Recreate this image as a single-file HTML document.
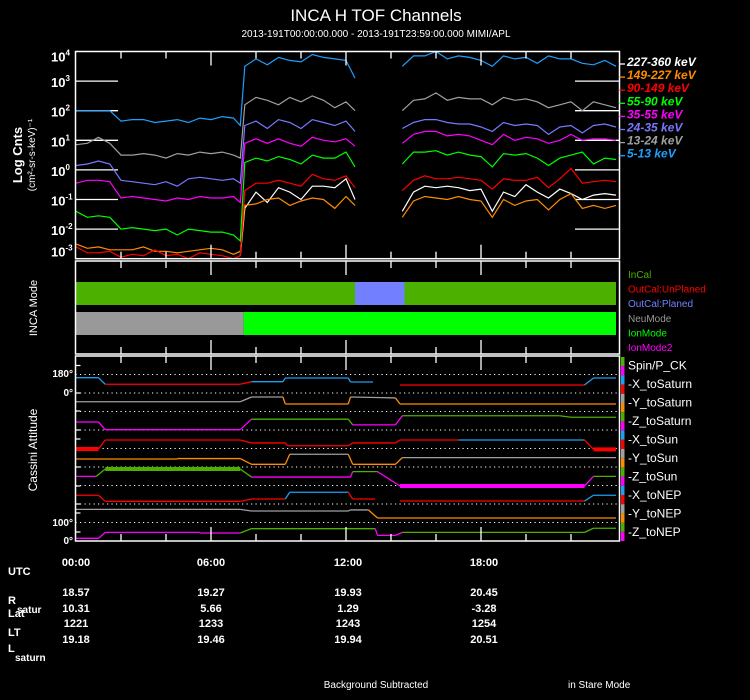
<!DOCTYPE html>
<html><head><meta charset="utf-8"><style>
html,body{margin:0;padding:0;background:#000;}
svg{display:block;font-family:"Liberation Sans",Arial,sans-serif;}
</style></head><body>
<svg id="c" width="750" height="700" viewBox="0 0 750 700">
<rect width="750" height="700" fill="#000"/>
<text x="376" y="21" fill="#fff" font-size="17" text-anchor="middle">INCA H TOF Channels</text>
<text x="376" y="37" fill="#fff" font-size="10" text-anchor="middle">2013-191T00:00:00.000 - 2013-191T23:59:00.000 MIMI/APL</text>
<g id="spec"></g>
<g id="mode"></g>
<g id="att"></g>
<g id="foot"></g>
</svg>
<script>
// ---- spectrum data ----
const times=[0,0.5,1,1.5,2,2.5,3,3.5,4,4.5,5,5.5,6,6.5,7,7.3,7.5,8,8.5,9,9.5,10,10.5,11,11.5,12,12.4,13.4,14.5,15,15.5,16,16.5,17,17.5,18,18.5,19,19.5,20,20.5,21,21.5,22,22.5,23,23.5,24];
const chanLabels=["227-360 keV","149-227 keV","90-149 keV","55-90 keV","35-55 keV","24-35 keV","13-24 keV","5-13 keV"];
const chanColors=["#ffffff","#ff8c00","#ff0000","#00ff00","#ff00ff","#7878ff","#a0a0a0","#1ea0ff"];
const N=null;
const s5_13=[2.0,2.0,2.0,2.0,1.65,1.7,1.7,1.6,1.65,1.7,1.6,1.75,1.7,1.8,1.75,1.5,3.5,3.75,3.55,3.8,3.7,3.65,3.9,3.8,3.75,3.7,3.1,N,3.5,3.85,3.85,4.0,3.75,3.85,3.8,3.7,3.5,3.85,3.75,3.8,3.6,3.85,3.75,3.75,3.6,3.55,3.7,3.5];
const s13_24=[0.85,0.9,1.1,0.9,0.5,0.5,0.55,0.5,0.4,0.55,0.5,0.6,0.55,0.6,0.5,0.4,2.2,2.45,2.35,2.2,2.45,2.3,2.5,2.35,2.1,2.3,2.0,N,2.0,2.35,2.4,2.6,2.35,2.45,2.4,2.4,2.2,2.45,2.35,2.4,2.3,2.1,2.2,2.3,2.0,2.3,2.2,2.1];
const s24_35=[0.15,0.2,0.3,0.2,-0.35,-0.4,-0.45,-0.5,-0.4,-0.55,-0.3,-0.25,-0.3,-0.35,-0.3,-0.45,1.5,1.65,1.4,1.7,1.6,1.4,1.7,1.6,1.5,1.65,1.3,N,1.4,1.6,1.7,1.7,1.6,1.55,1.55,1.45,1.3,1.6,1.5,1.55,1.5,1.2,1.45,1.5,1.25,1.5,1.55,1.45];
const s35_55=[-0.45,-0.35,-0.35,-0.4,-0.95,-0.9,-0.95,-1.0,-1.05,-0.95,-1.0,-0.9,-0.95,-0.95,-0.9,-1.1,0.9,1.05,0.9,1.05,0.9,0.8,1.1,1.0,0.95,1.05,0.8,N,0.9,1.2,1.3,1.3,1.15,1.2,1.15,1.0,0.85,1.2,1.0,1.1,1.05,0.9,1.0,1.2,1.0,1.05,1.05,1.0];
const s55_90=[-1.4,-1.6,-1.55,-1.6,-2.0,-1.95,-2.0,-2.05,-2.0,-2.2,-2.0,-2.05,-2.1,-2.1,-2.2,-2.4,0.25,0.4,0.3,0.45,0.35,0.2,0.5,0.4,0.4,0.6,0.1,N,0.2,0.6,0.6,0.65,0.5,0.6,0.5,0.45,0.1,0.55,0.5,0.55,0.4,0.15,0.4,0.5,0.6,0.2,0.4,0.35];
const s90_149=[-2.6,-2.8,-2.8,-2.75,-2.95,-2.85,-2.9,-2.7,-2.9,-2.85,-3.0,-2.8,-2.85,-2.9,-3.0,-2.9,-0.7,-0.45,-0.45,-0.35,-0.45,-0.55,-0.15,-0.3,-0.35,-0.2,-0.6,N,-0.7,-0.35,-0.2,-0.3,-0.3,-0.25,-0.3,-0.35,-0.65,-0.3,-0.35,-0.35,-0.25,-0.6,-0.3,0.05,-0.45,-0.4,-0.35,-0.4];
const s149_227=[-2.5,-2.65,-2.6,-2.7,-2.7,-2.7,-2.6,-2.75,-2.75,-2.8,-2.75,-2.7,-2.65,-2.7,-2.85,-2.75,-1.2,-1.15,-1.0,-0.95,-1.2,-1.05,-0.95,-1.0,-1.3,-0.9,-1.2,N,-1.6,-1.05,-0.9,-0.95,-1.0,-0.9,-1.0,-1.05,-1.6,-1.0,-1.2,-1.05,-1.0,-1.35,-1.0,-0.8,-1.3,-1.2,-1.3,-1.2];
const s227_360=[N,N,N,N,N,N,N,N,N,N,N,N,N,N,N,-2.9,-1.3,-0.75,-1.1,-0.6,-0.75,-1.0,-0.55,-0.55,-0.6,-0.3,-1.0,N,-1.4,-0.75,-0.55,-0.6,-0.55,-0.6,-0.7,-0.65,-1.4,-0.75,-0.9,-0.5,-0.75,-0.95,-0.65,-0.8,-1.0,-0.85,-0.8,-0.85];
const decades=[4,3,2,1,0,-1,-2,-3];
const hourTicks=[0,2,4,6,8,10,12,14,16,18,20,22,24];
// ---- mode data ----
const calStart=[0,12.4,14.6];const calEnd=[12.4,14.6,24];const calKind=["InCal","OutCal:Planed","InCal"];
const modeStart=[0,7.45];const modeEnd=[7.45,24];const modeKind=["NeuMode","IonMode"];
const modeNames=["InCal","OutCal:UnPlaned","OutCal:Planed","NeuMode","IonMode","IonMode2"];
const modeColors=["#4cb000","#ff0000","#7280ff","#999999","#00ff00","#ff00ff"];
// ---- attitude data (degrees per row) ----
const attLabels=["Spin/P_CK","-X_toSaturn","-Y_toSaturn","-Z_toSaturn","-X_toSun","-Y_toSun","-Z_toSun","-X_toNEP","-Y_toNEP","-Z_toNEP"];
const T1=[0,1.0,1.3,7.3,7.8,9.2,9.3,12.1,12.2,13.2,14.4,22.6,23,24];
const V1=[149,149,85,85,110,110,146,146,107,107,78,78,146,146];
const C1=["b","b","r","r","b","b","b","b","b","-","r","b","b"];
const T2=[0,7.3,7.8,9.2,9.3,12.1,12.2,14.2,14.4,24];
const V2=[95,95,141,141,73,73,141,132,73,73];
const C2=["g","g","g","o","o","o","g","o","o"];
const T3=[0,1.0,1.3,7.3,7.8,12.1,12.3,14.2,14.5,21.5,22,24];
const V3=[78,78,3,3,105,105,50,50,139,139,124,124];
const C3=["m","m","m","m","G","G","m","m","G","G","G"];
const T4=[0,1.0,1.3,7.3,7.8,9.3,9.4,12.1,12.3,14.2,14.4,17,22.6,23,24];
const V4=[-5,-5,83,83,54,54,27,27,54,54,83,83,83,-8,-8];
const C4=["R","r","r","r","r","r","r","r","r","r","r","b","r","R"];
const T5=[0,4.5,4.5,7.3,7.8,9.3,9.5,12.1,12.3,14.2,14.5,24];
const V5=[78,78,82,82,26,26,124,124,26,26,91,91];
const C5=["o","o","o","o","o","o","g","o","o","o","g"];
const T6=[0,0.9,1.3,7.3,7.8,12.2,12.3,13.4,14.4,22.6,23,24];
const V6=[89,89,160,160,82,82,135,135,-5,-5,89,89];
const C6=["m","G","X","G","m","m","G","m","M","m","G"];
const T7=[0,1.0,1.3,7.3,7.8,9.3,9.5,12.1,12.3,13.3,14.4,22.6,23,24];
const V7=[85,85,26,26,49,49,114,114,49,49,29,29,85,85];
const C7=["r","r","r","r","r","b","b","r","r","-","r","b","b"];
const T8=[0,7.3,7.8,12.1,12.2,13.0,13.4,24];
const V8=[128,128,112,112,122,122,44,44];
const C8=["g","g","g","g","g","o","o"];
const T9=[0,1.0,1.3,5.5,5.5,7.3,7.8,13.3,13.4,14.2,14.5,22.6,23,24];
const V9=[26,26,84,84,78,78,120,120,55,55,84,84,124,124];
const C9=["m","m","m","m","m","G","G","m","m","m","G","G","G"];
// ---- ephemeris ----
const utcLabels=["00:00","06:00","12:00","18:00"];
const rVals=["18.57","19.27","19.93","20.45"];
const latVals=["10.31","5.66","1.29","-3.28"];
const ltVals=["1221","1233","1243","1254"];
const lVals=["19.18","19.46","19.94","20.51"];

const NS="http://www.w3.org/2000/svg";
function mk(tag,attrs,parent,txt){const e=document.createElementNS(NS,tag);for(const k in attrs)e.setAttribute(k,attrs[k]);if(txt!==undefined)e.textContent=txt;parent.appendChild(e);return e;}
const X0=76,XS=22.5,PL=75.5,PR=619.5;
function xOf(t){return X0+t*XS;}
const SY0=51.5,SY1=258.7;
function yLog(v){return SY0+(4-v)*(SY1-SY0)/7;}

function frame(g,top,bot,name){
  const r=mk('rect',{x:PL,y:top,width:PR-PL,height:bot-top,fill:'none',stroke:'#fff','stroke-width':1.5},g);
  
  
  hourTicks.forEach(h=>{const x=xOf(h);const L=(h%6===0)?14:7;if(h===0||h===24)return;
    const a=mk('line',{x1:x,x2:x,y1:top,y2:top+L,stroke:'#fff','stroke-width':1.3},g);
    
    
    const b=mk('line',{x1:x,x2:x,y1:bot,y2:bot-L,stroke:'#fff','stroke-width':1.3},g);
    
    });
}

// spectrum panel
const sp=document.getElementById('spec');
decades.forEach(d=>{const y=yLog(d);
  if(d<4&&d>-3){
    const a=mk('line',{x1:PL,x2:118,y1:y,y2:y,stroke:'#fff','stroke-width':1.3},sp);
    
    
    const b=mk('line',{x1:575,x2:PR,y1:y,y2:y,stroke:'#fff','stroke-width':1.3},sp);
    
    }
  let ty=y+6; if(d===4)ty=y+10; if(d===-3)ty=y-2;
  const t=mk('text',{x:51,y:ty,fill:'#fff','font-size':13,'font-weight':'bold'},sp,'10');
  
  
  mk('tspan',{dy:-6,'font-size':8},t,String(d));
});
const series=[s227_360,s149_227,s90_149,s55_90,s35_55,s24_35,s13_24,s5_13];
series.forEach((s,i)=>{let d='';let pen=false;
  s.forEach((v,j)=>{if(v===null){pen=false;return;}d+=(pen?'L':'M')+xOf(times[j]).toFixed(1)+' '+yLog(v).toFixed(1);pen=true;});
  const p=mk('path',{d:d,fill:'none',stroke:chanColors[i],'stroke-width':1.2},sp);
  
  
});
frame(sp,SY0,SY1,'spectrum');
chanLabels.forEach((l,i)=>{const y=61+i*13.1;
  const m=mk('line',{x1:PR,x2:625,y1:y+3,y2:y+3,stroke:chanColors[i],'stroke-width':1.3},sp);
  
  
  const t=mk('text',{x:627,y:y+5,fill:chanColors[i],'font-size':12,'font-weight':'bold','font-style':'italic'},sp,l);
  
  
});
let yl=mk('text',{transform:'translate(22,155) rotate(-90)',fill:'#fff','font-size':13,'font-weight':'bold','text-anchor':'middle'},sp,'Log Cnts');


yl=mk('text',{transform:'translate(35,155) rotate(-90)',fill:'#fff','font-size':10,'text-anchor':'middle'},sp,'(cm²-sr-s-keV)⁻¹');



// mode panel
const mp=document.getElementById('mode');
const MT=261,MB=354;
calStart.forEach((s,i)=>{const r=mk('rect',{x:xOf(s),y:282,width:xOf(calEnd[i])-xOf(s),height:23,fill:modeColors[modeNames.indexOf(calKind[i])]},mp);
  
  });
modeStart.forEach((s,i)=>{const r=mk('rect',{x:xOf(s),y:312,width:xOf(modeEnd[i])-xOf(s),height:23,fill:modeColors[modeNames.indexOf(modeKind[i])]},mp);
  
  });
mp.querySelectorAll('rect').forEach(r=>{if(+r.getAttribute('x')<PL)r.setAttribute('x',PL);});
frame(mp,MT,MB,'mode');
modeNames.forEach((n,i)=>{const t=mk('text',{x:628,y:278+i*14.6,fill:modeColors[i],'font-size':10},mp,n);
  
  });
yl=mk('text',{transform:'translate(37,308) rotate(-90)',fill:'#fff','font-size':11,'text-anchor':'middle'},mp,'INCA Mode');



// attitude panel
const ap=document.getElementById('att');
const AT=356,AB=541,RH=18.5;
for(let i=1;i<10;i++){const y=AT+i*RH;
  const l=mk('line',{x1:PL,x2:PR,y1:y,y2:y,stroke:'#fff','stroke-width':1,'stroke-dasharray':'1.2,3.3'},ap);
  
  }
[365.5,393,411,430,439,467,486,504,513,532].forEach(y=>{const l=mk('line',{x1:PL,x2:PL+5,y1:y,y2:y,stroke:'#fff','stroke-width':1.2},ap);
  
  });
const colMap={b:'#1ea0f0',r:'#ff0000',g:'#a0a0a0',o:'#ff8c00',G:'#4cb000',m:'#ff00ff',R:'#ff0000',X:'#4cb000',M:'#ff00ff'};
const rowsT=[T1,T2,T3,T4,T5,T6,T7,T8,T9],rowsV=[V1,V2,V3,V4,V5,V6,V7,V8,V9],rowsC=[C1,C2,C3,C4,C5,C6,C7,C8,C9];
rowsT.forEach((T,k)=>{const row=k+1;const base=AT+(row+1)*RH;const V=rowsV[k],C=rowsC[k];
  for(let i=0;i<T.length-1;i++){const c=C[i];if(c==='-')continue;
    const w=(c==='R'||c==='X'||c==='M')?4:1.3;
    const l=mk('line',{x1:xOf(T[i]),x2:xOf(T[i+1]),y1:base-V[i]*RH/180,y2:base-V[i+1]*RH/180,stroke:colMap[c],'stroke-width':w},ap);
    
    }
});
frame(ap,AT,AB,'attitude');
const barCols=['#4cb000','#ff00ff','#1ea0f0','#ff0000','#a0a0a0','#ff8c00'];
for(let i=0;i<20;i++){const y=357+i*9.2;const h=Math.min(9.2,541-y);if(h<=0)break;
  const r=mk('rect',{x:621,y:y,width:3.5,height:h,fill:barCols[i%6]},ap);
  
  }
attLabels.forEach((n,i)=>{const t=mk('text',{x:628,y:369.5+i*18.5,fill:'#fff','font-size':12},ap,n);
  
  });
[["180°",377],["0°",396],["100°",526],["0°",544]].forEach(a=>{const t=mk('text',{x:73,y:a[1],fill:'#fff','font-size':10,'font-weight':'bold','text-anchor':'end'},ap,a[0]);
  
  });
yl=mk('text',{transform:'translate(37,450) rotate(-90)',fill:'#fff','font-size':12,'text-anchor':'middle'},ap,'Cassini Attitude');



// footer
const ft=document.getElementById('foot');
const colX=[76,211,348,484];
function row(arr,y,name){arr.forEach((v,i)=>{const t=mk('text',{x:colX[i],y:y,fill:'#fff','font-size':11,'font-weight':'bold','text-anchor':'middle'},ft,v);
  
  });}
row(utcLabels,566,'utc-tick-label');
row(rVals,596,'r-value');
row(latVals,612,'lat-value');
row(ltVals,627,'lt-value');
row(lVals,643,'l-value');
[["UTC",8,575,11],["R",8,604,11],["satur",17,613,10],["Lat",8,617,11],["LT",8,636,11],["L",8,652,11],["saturn",15,661,10]].forEach(a=>{
  const t=mk('text',{x:a[1],y:a[2],fill:'#fff','font-size':a[3],'font-weight':'bold'},ft,a[0]);
  
  });
let ft1=mk('text',{x:376,y:688,fill:'#fff','font-size':10,'text-anchor':'middle'},ft,'Background Subtracted');


ft1=mk('text',{x:568,y:688,fill:'#fff','font-size':10},ft,'in Stare Mode');


</script>
</body></html>
